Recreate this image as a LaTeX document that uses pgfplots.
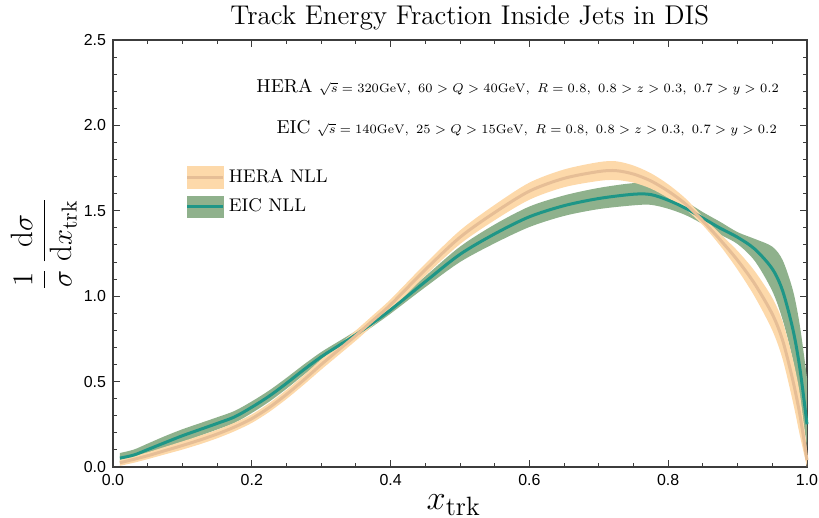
\documentclass[border=0pt]{standalone}
\usepackage{fontspec}
\usepackage{amsmath}
\usepackage{graphicx}
\usepackage{pgfplots}
\usepackage{pgfplotstable}
\pgfplotsset{compat=1.18}
\usepgfplotslibrary{fillbetween}
\newfontfamily\ticksf{Liberation Sans}
\definecolor{heraband}{RGB}{253,217,170}
\definecolor{heraline}{RGB}{230,190,150}
\definecolor{eicband}{RGB}{143,177,140}
\definecolor{eicline}{RGB}{30,150,135}
\definecolor{framec}{RGB}{60,60,60}

\pgfplotstableread{
x c l u
0.01 0.025 0.007 0.043
0.03 0.045 0.025 0.065
0.05 0.066 0.046 0.086
0.075 0.096 0.074 0.118
0.10 0.126 0.102 0.150
0.125 0.158 0.133 0.183
0.15 0.193 0.168 0.218
0.175 0.234 0.209 0.259
0.20 0.283 0.258 0.308
0.225 0.348 0.322 0.374
0.25 0.425 0.398 0.452
0.275 0.51 0.482 0.538
0.30 0.60 0.57 0.63
0.325 0.685 0.655 0.715
0.35 0.77 0.74 0.80
0.375 0.86 0.83 0.89
0.40 0.95 0.918 0.982
0.45 1.155 1.12 1.19
0.50 1.345 1.305 1.385
0.55 1.49 1.445 1.535
0.60 1.615 1.565 1.665
0.65 1.69 1.638 1.742
0.70 1.73 1.675 1.785
0.725 1.735 1.68 1.79
0.75 1.715 1.665 1.765
0.775 1.675 1.63 1.72
0.80 1.615 1.575 1.655
0.825 1.54 1.508 1.572
0.85 1.44 1.415 1.465
0.875 1.33 1.295 1.365
0.90 1.21 1.155 1.265
0.925 1.07 0.995 1.145
0.95 0.895 0.80 0.99
0.965 0.74 0.63 0.85
0.98 0.50 0.375 0.625
0.99 0.30 0.18 0.42
1.00 0.04 0.0 0.10
}\hera

\pgfplotstableread{
x c l u
0.01 0.052 0.022 0.082
0.03 0.070 0.038 0.102
0.05 0.102 0.067 0.137
0.075 0.143 0.105 0.181
0.10 0.183 0.145 0.221
0.125 0.219 0.182 0.256
0.15 0.255 0.219 0.291
0.175 0.293 0.258 0.328
0.20 0.350 0.316 0.384
0.225 0.415 0.382 0.448
0.25 0.490 0.458 0.522
0.275 0.570 0.540 0.600
0.30 0.645 0.617 0.673
0.325 0.710 0.685 0.735
0.35 0.775 0.753 0.797
0.375 0.845 0.825 0.865
0.40 0.920 0.898 0.942
0.45 1.085 1.053 1.117
0.50 1.245 1.200 1.290
0.55 1.365 1.310 1.420
0.60 1.465 1.405 1.525
0.65 1.530 1.470 1.590
0.70 1.572 1.510 1.634
0.75 1.597 1.532 1.662
0.775 1.595 1.535 1.655
0.80 1.562 1.512 1.612
0.825 1.515 1.475 1.555
0.85 1.457 1.422 1.492
0.875 1.398 1.361 1.435
0.90 1.345 1.305 1.375
0.925 1.275 1.205 1.335
0.95 1.160 1.030 1.290
0.965 1.030 0.860 1.210
0.98 0.800 0.620 1.030
0.99 0.570 0.380 0.820
1.00 0.250 0.120 0.520
}\eic

\begin{document}
\begin{tikzpicture}
\begin{axis}[
  scale only axis,
  width=347bp, height=213.5bp,
  xmin=0, xmax=1, ymin=0, ymax=2.5,
  clip=false,
  axis line style={framec, line width=0.6pt},
  tick style={framec, line width=0.5pt},
  tick align=inside,
  major tick length=3.5bp,
  minor tick length=2bp,
  xtick={0,0.2,0.4,0.6,0.8,1.0},
  ytick={0,0.5,1.0,1.5,2.0,2.5},
  minor x tick num=3,
  minor y tick num=4,
  xticklabel style={font=\ticksf\fontsize{8}{9}\selectfont, /pgf/number format/fixed, /pgf/number format/fixed zerofill, /pgf/number format/precision=1, /pgf/number format/assume math mode=true},
  yticklabel style={font=\ticksf\fontsize{8}{9}\selectfont, /pgf/number format/fixed, /pgf/number format/fixed zerofill, /pgf/number format/precision=1, /pgf/number format/assume math mode=true},
  legend style={at={(rel axis cs:0.105,0.707)}, anchor=north west, draw=none, fill=none,
     font=\fontsize{9.2}{10}\selectfont, row sep=2.8bp, inner sep=0pt, outer sep=0pt},
  legend cell align=left,
]
% EIC band and line
\addplot[draw=none, name path=eu, smooth, forget plot] table[x=x,y=u]{\eic};
\addplot[draw=none, name path=el, smooth, forget plot] table[x=x,y=l]{\eic};
\addplot[fill=eicband, draw=none, forget plot] fill between[of=eu and el];
\addplot[eicline, line width=1.5bp, smooth, forget plot] table[x=x,y=c]{\eic};
% HERA band and line
\addplot[draw=none, name path=hu, smooth, forget plot] table[x=x,y=u]{\hera};
\addplot[draw=none, name path=hl, smooth, forget plot] table[x=x,y=l]{\hera};
\addplot[fill=heraband, draw=none, forget plot] fill between[of=hu and hl];
\addplot[heraline, line width=1.5bp, smooth, forget plot] table[x=x,y=c]{\hera};

\addlegendimage{legend image code/.code={\fill[heraband] (0bp,-5.4bp) rectangle (18bp,5.4bp); \draw[heraline, line width=1.5bp] (0bp,0bp) -- (18bp,0bp);}}
\addlegendentry{HERA NLL}
\addlegendimage{legend image code/.code={\fill[eicband] (0bp,-5.4bp) rectangle (18bp,5.4bp); \draw[eicline, line width=1.5bp] (0bp,0bp) -- (18bp,0bp);}}
\addlegendentry{EIC NLL}

\node[anchor=base] at (rel axis cs:0.514,1) [yshift=8bp] {\fontsize{13.6}{15}\selectfont Track Energy Fraction Inside Jets in DIS};
\node[anchor=base east, inner sep=0pt] at (rel axis cs:0.96,0.876) {\fontsize{9.4}{11}\selectfont HERA {\fontsize{6.8}{8}\selectfont\scalebox{0.913}{$\sqrt{s}=320\mathrm{GeV},\ 60>Q>40\mathrm{GeV},\ R=0.8,\ 0.8>z>0.3,\ 0.7>y>0.2$}}};
\node[anchor=base east, inner sep=0pt] at (rel axis cs:0.957,0.78) {\fontsize{9.4}{11}\selectfont EIC {\fontsize{6.8}{8}\selectfont\scalebox{0.913}{$\sqrt{s}=140\mathrm{GeV},\ 25>Q>15\mathrm{GeV},\ R=0.8,\ 0.8>z>0.3,\ 0.7>y>0.2$}}};
\node[inner sep=0pt] at (rel axis cs:0,0.522) [xshift=-34.5bp] {\rotatebox{90}{\fontsize{15.5}{18}\selectfont $\displaystyle\genfrac{}{}{0.6pt}{0}{1}{\sigma}\,\genfrac{}{}{0.6pt}{0}{\mathrm{d}\sigma}{\mathrm{d}x_{\mathrm{trk}}}$}};
\node at (rel axis cs:0.491,0) [yshift=-19bp] {\fontsize{19}{22}\selectfont $x_{\mathrm{trk}}$};
\end{axis}
\pgfresetboundingbox
\path[use as bounding box] (-56.5bp,-25.5bp) rectangle (353bp,233.5bp);
\end{tikzpicture}
\end{document}
